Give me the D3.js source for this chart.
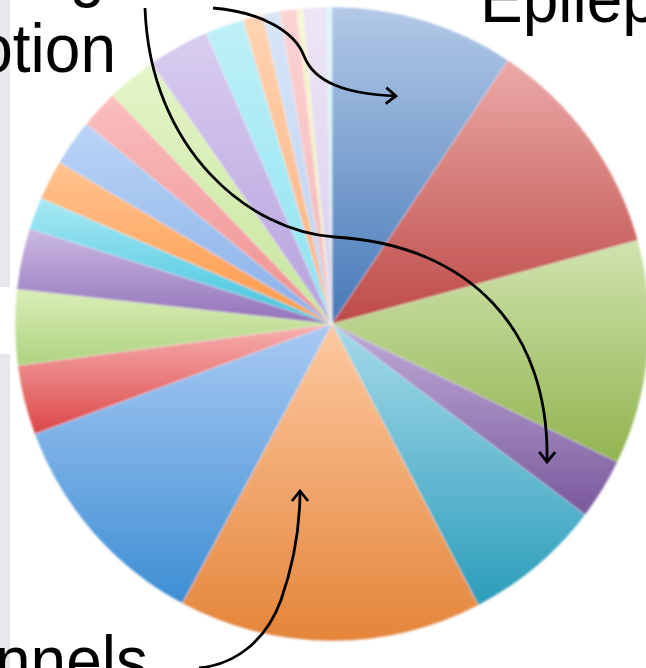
<!DOCTYPE html>
<html>
<head>
<meta charset="utf-8">
<script src="https://cdn.jsdelivr.net/npm/d3@7"></script>
<style>
  html, body { margin: 0; padding: 0; background: #fff; overflow: hidden; }
  svg { display: block; }
</style>
</head>
<body>
<script>
// Share of each topic, clockwise from 12 o'clock
const categories = ["Topic 1", "Topic 2", "Topic 3", "Topic 4", "Topic 5", "Topic 6",
  "Topic 7", "Topic 8", "Topic 9", "Topic 10", "Topic 11", "Topic 12",
  "Topic 13", "Topic 14", "Topic 15", "Topic 16", "Topic 17", "Topic 18",
  "Topic 19", "Topic 20", "Topic 21", "Topic 22", "Topic 23"];
const shares = [33.7, 41.0, 41.1, 11.2, 25.5, 55.7,
  41.5, 12.8, 13.8, 11.2, 5.9, 7.3,
  8.5, 7.0, 9.1, 11.3, 7.1, 3.7,
  3.1, 3.1, 1.1, 4.4, 0.9];

// Callout text
const leftLabelLines = ["Learning", "Emotion"];
const topLabel = "Epilepsy";
const bottomLabel = "Ion channels";

// Slice fills: [light top, base bottom]
const palette = [
  ["#B3C9E7", "#4679B8"], ["#EBAAA8", "#BD4A47"], ["#D0E3AF", "#92B44F"],
  ["#BFACD8", "#7A589C"], ["#A6DAE9", "#2B9DBB"], ["#FDC9A1", "#E4853A"],
  ["#A9CAF3", "#3D8ED4"], ["#F7B0B0", "#DC4747"], ["#DAEEB7", "#ADD380"],
  ["#CBB9E3", "#9272B9"], ["#AAE9F5", "#3DC3DC"], ["#FFC392", "#FD9844"],
  ["#BAD4F6", "#88B0E9"], ["#FABEBE", "#EF8F8F"], ["#E4F5C7", "#C6E59E"],
  ["#D9CDEF", "#B6A0DD"], ["#BFF0F8", "#8CE2F1"], ["#FFD3B2", "#FFAE78"],
  ["#D7E5F8", "#BAD0F1"], ["#FBD4D4", "#F4B3B3"], ["#F6F6D2", "#E9EAB6"],
  ["#EDE6F6", "#DACEED"], ["#DEF6FA", "#C3EDF5"]
];

const W = 646, H = 668;
const cx = 332, cy = 324, R = 317;

const svg = d3.select("body").append("svg")
  .attr("width", W).attr("height", H)
  .attr("font-family", "'Liberation Sans', Arial, sans-serif");

const defs = svg.append("defs");

// Vertical gradient per slice, light at the top of the wedge
palette.forEach((c, i) => {
  const g = defs.append("linearGradient")
    .attr("id", "slice" + i)
    .attr("x1", 0).attr("y1", 0).attr("x2", 0).attr("y2", 1);
  g.append("stop").attr("offset", "0%").attr("stop-color", c[0]);
  g.append("stop").attr("offset", "100%").attr("stop-color", c[1]);
});

defs.append("filter").attr("id", "soft")
  .attr("x", "-5%").attr("y", "-5%").attr("width", "110%").attr("height", "110%")
  .append("feGaussianBlur").attr("stdDeviation", 0.9);

defs.append("marker")
  .attr("id", "chev")
  .attr("viewBox", "-12 -10 14 20")
  .attr("markerWidth", 14).attr("markerHeight", 20)
  .attr("markerUnits", "userSpaceOnUse")
  .attr("orient", "auto")
  .append("path")
  .attr("d", "M-10,-8 L0,0 L-10,8")
  .attr("fill", "none").attr("stroke", "#000").attr("stroke-width", 2.8);

// Page edge strip
svg.append("rect").attr("x", 0).attr("y", 0).attr("width", 10).attr("height", 287).attr("fill", "#E7E7EC");
svg.append("rect").attr("x", 0).attr("y", 354).attr("width", 10).attr("height", H - 354).attr("fill", "#E7E7EC");

// Pie
const pie = d3.pie().sort(null).value(d => d)
  .startAngle(0).endAngle(2 * Math.PI);
const arc = d3.arc().innerRadius(0).outerRadius(R);

svg.append("g")
  .attr("transform", `translate(${cx},${cy})`)
  .attr("filter", "url(#soft)")
  .selectAll("path")
  .data(pie(shares))
  .join("path")
  .attr("d", arc)
  .attr("fill", (d, i) => `url(#slice${i % palette.length})`)
  .attr("stroke", "rgba(255,255,255,0.35)")
  .attr("stroke-width", 0.8)
  .append("title").text((d, i) => categories[i]);

// Labels, set slightly tall as on the slide
const fs = 64;
function label(x, y, anchor, txt) {
  svg.append("text")
    .attr("transform", `translate(${x},${y}) scale(1,1.07)`)
    .attr("text-anchor", anchor).attr("font-size", fs).attr("fill", "#000")
    .text(txt);
}
label(105, -6, "end", leftLabelLines[0]);
label(116, 72, "end", leftLabelLines[1]);
label(480, 22, "start", topLabel);
label(148, 684, "end", bottomLabel);

// Callout arrows
const arrows = [
  "M145,8 C150,150 250,232 335,237 C470,245 550,330 547,462",
  "M213,8 C262,12 295,32 304,56 C314,82 345,94 396,96",
  "M199,668 C240,664 268,636 281,600 C295,560 300,520 300,491"
];
svg.append("g").selectAll("path")
  .data(arrows)
  .join("path")
  .attr("d", d => d)
  .attr("fill", "none")
  .attr("stroke", "#000")
  .attr("stroke-width", 2.8)
  .attr("marker-end", "url(#chev)");
</script>
</body>
</html>
